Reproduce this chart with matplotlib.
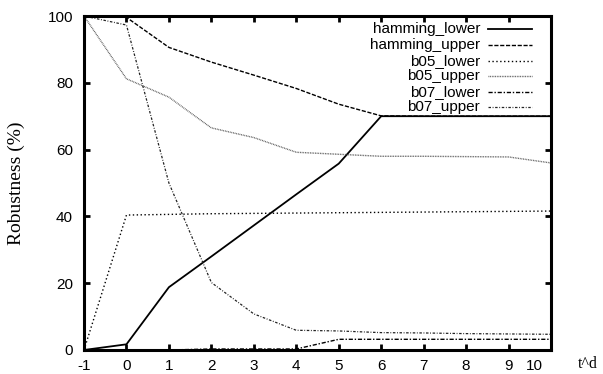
import matplotlib
matplotlib.use("Agg")
import matplotlib.pyplot as plt
import matplotlib.transforms as mtransforms

plt.rcParams["axes.unicode_minus"] = False

# t^d values on the x axis
td = [-1, 0, 1, 2, 3, 4, 5, 6, 7, 8, 9, 10]

hamming_lower = [0, 1.7, 18.8, 28.0, 37.3, 46.6, 55.8, 70, 70, 70, 70, 70]
hamming_upper = [100, 99.6, 90.6, 86.2, 82.3, 78.3, 73.6, 70.1, 70, 70, 70, 70]
b05_lower = [0, 40.4, 40.6, 40.8, 40.9, 41.0, 41.1, 41.2, 41.3, 41.4, 41.5, 41.6]
b05_upper = [100, 81.2, 75.7, 66.5, 63.6, 59.2, 58.6, 58.0, 58.0, 57.9, 57.8, 56.0]
b07_lower = [0, 0, 0, 0.3, 0.3, 0.3, 3.2, 3.2, 3.2, 3.2, 3.2, 3.2]
b07_upper = [100, 97.3, 50.0, 20.2, 10.8, 5.9, 5.7, 5.2, 5.1, 4.9, 4.8, 4.7]

series = [
    ("hamming_lower", hamming_lower, dict(color="black", lw=1.3, ls="-")),
    ("hamming_upper", hamming_upper, dict(color="black", lw=1.0, dashes=(3, 1.2))),
    ("b05_lower", b05_lower, dict(color="black", lw=1.0, dashes=(1, 1.8))),
    ("b05_upper", b05_upper, dict(color="#555555", lw=1.0, dashes=(0.6, 0.6))),
    ("b07_lower", b07_lower, dict(color="black", lw=1.0, dashes=(3, 1.3, 1, 1.3))),
    ("b07_upper", b07_upper, dict(color="#222222", lw=0.9, dashes=(2, 1.3, 0.7, 1.3))),
]

fig = plt.figure(figsize=(6.03, 3.74), dpi=100)
ax = fig.add_axes([0.1393, 0.0642, 0.7745, 0.8930])

for name, vals, st in series:
    ax.plot(td, vals, **st)

ax.set_xlim(-1, 10)
ax.set_ylim(0, 100)
ax.set_xticks(td)
ax.set_yticks([0, 20, 40, 60, 80, 100])
ax.tick_params(direction="in", length=4, width=2, top=True, right=True,
               labelsize=11)
ax.tick_params(axis="x", pad=6.5)
ax.tick_params(axis="y", pad=8)
for lab in ax.get_xticklabels() + ax.get_yticklabels():
    lab.set_family("Liberation Sans")
# gnuplot pulled the last x label in from the corner
last = ax.get_xticklabels()[-1]
last.set_transform(last.get_transform() +
                   mtransforms.ScaledTranslation(-0.17, 0, fig.dpi_scale_trans))
for sp in ax.spines.values():
    sp.set_linewidth(2.2)

ax.set_ylabel("Robustness (%)", family="Liberation Serif", fontsize=14)
ax.yaxis.set_label_coords(-0.126, 0.5)
ax.text(1.058, -0.042, "t^d", transform=ax.transAxes, family="Liberation Serif",
        fontsize=11.5, ha="left", va="center")

# gnuplot-style key: right-aligned labels, sample line on the right
rows = [0.961, 0.913, 0.866, 0.820, 0.773, 0.727]
for (name, vals, st), y in zip(series, rows):
    ax.text(0.848, y, name, transform=ax.transAxes, ha="right", va="center",
            family="Liberation Sans", fontsize=11)
    ax.plot([0.865, 0.959], [y, y], transform=ax.transAxes, **st)

fig.savefig("out.png", dpi=100)
